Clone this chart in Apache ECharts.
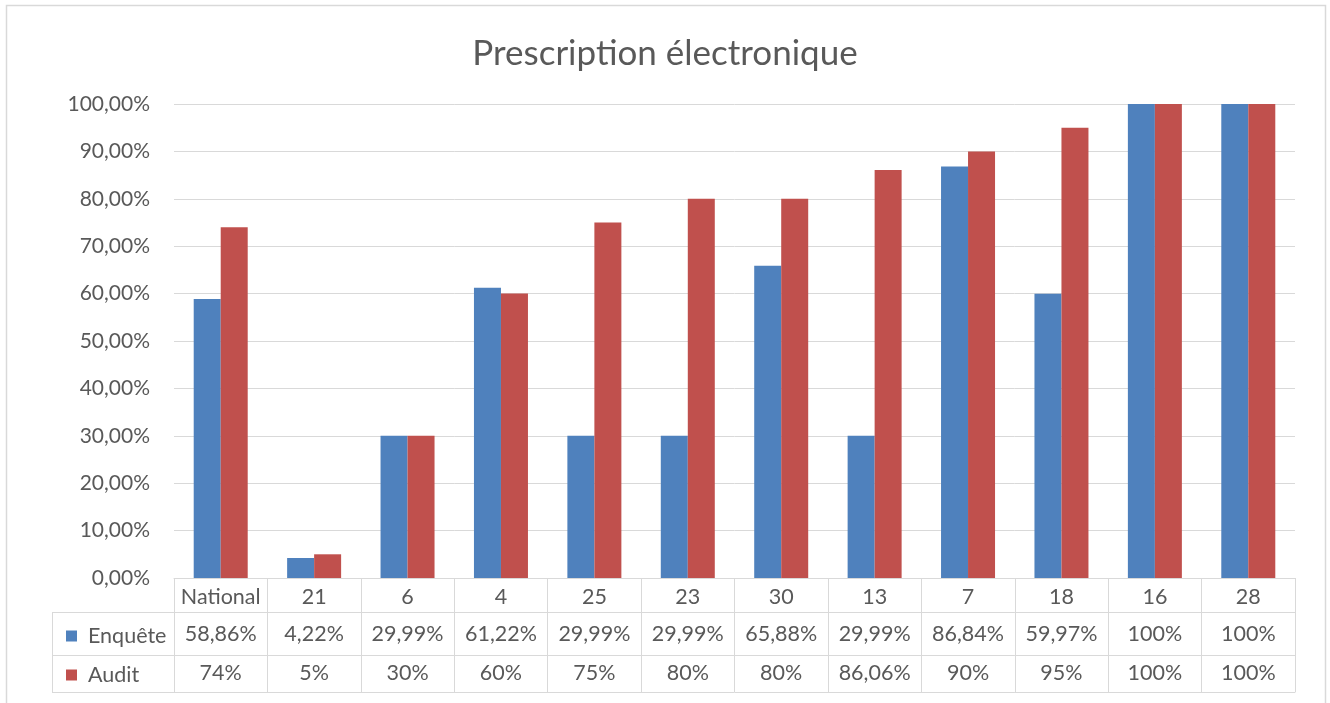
<!DOCTYPE html>
<html>
<head>
<meta charset="utf-8">
<script src="https://cdn.jsdelivr.net/npm/echarts@6/dist/echarts.min.js"></script>
<style>html,body{margin:0;padding:0;background:#fff}#c{width:1330px;height:703px}</style>
</head>
<body>
<div id="c"></div>
<script>
const categories = ['National','21','6','4','25','23','30','13','7','18','16','28'];
const enquete = [58.86, 4.22, 29.99, 61.22, 29.99, 29.99, 65.88, 29.99, 86.84, 59.97, 100, 100];
const audit = [74, 5, 30, 60, 75, 80, 80, 86.06, 90, 95, 100, 100];
const enqueteLabels = ['58,86%','4,22%','29,99%','61,22%','29,99%','29,99%','65,88%','29,99%','86,84%','59,97%','100%','100%'];
const auditLabels = ['74%','5%','30%','60%','75%','80%','80%','86,06%','90%','95%','100%','100%'];
const seriesNames = ['Enquête','Audit'];

const FONT = 'Lato';
const TXT = '#595959';
const LINE = '#d9d9d9';
const FS = 21.5;
const chart = echarts.init(document.getElementById('c'), null, {renderer:'canvas'});
const gridLeft = 174, gridRight = 35, gridTop = 104, gridBottom = 703-578;

function tableAxis(data, offset, margin, showLabel){
  return {
    type:'category', data:data, position:'bottom', offset:offset, gridIndex:0,
    axisLine:{show:true, lineStyle:{color:LINE, width:1}},
    axisTick:{show:false},
    axisLabel:{show:showLabel, interval:0, margin:margin, color:TXT, fontSize:FS, fontFamily:FONT},
    splitLine:{show:false}
  };
}

chart.setOption({
  animation:false,
  textStyle:{fontFamily:FONT},
  title:{text:'Prescription électronique', left:'center', top:31,
    textStyle:{color:TXT, fontSize:35, fontWeight:'normal', fontFamily:FONT}},
  grid:{left:gridLeft, right:gridRight, top:gridTop, bottom:gridBottom, containLabel:false},
  legend:{orient:'vertical', left:61, top:620, itemGap:17, itemWidth:11, itemHeight:11,
    icon:'rect', data:seriesNames,
    textStyle:{color:TXT, fontSize:FS, fontFamily:FONT, lineHeight:22, padding:[0,0,0,6]}},
  xAxis:[
    {type:'category', data:categories, position:'bottom',
      axisLine:{show:true, lineStyle:{color:LINE}},
      axisTick:{show:true, interval:0, length:114, lineStyle:{color:LINE}},
      axisLabel:{interval:0, margin:8, color:TXT, fontSize:FS, fontFamily:FONT}},
    tableAxis(enqueteLabels, 34, 11, true),
    tableAxis(auditLabels, 77, 7, true),
    tableAxis(auditLabels, 114, 8, false)
  ],
  yAxis:{type:'value', min:0, max:100, interval:10,
    axisLine:{show:false}, axisTick:{show:false},
    splitLine:{lineStyle:{color:LINE, width:1}},
    axisLabel:{margin:24, color:TXT, fontSize:21, fontFamily:FONT,
      formatter:v => v.toFixed(2).replace('.', ',') + '%'}},
  series:[
    {name:seriesNames[0], type:'bar', data:enquete, xAxisIndex:0, barWidth:27, barGap:'0%',
      itemStyle:{color:'#4f81bd'}},
    {name:seriesNames[1], type:'bar', data:audit, xAxisIndex:0, barWidth:27, barGap:'0%',
      itemStyle:{color:'#c0504d'}}
  ],
  graphic:[
    {type:'rect', shape:{x:6.5, y:5.5, width:1319, height:760}, style:{fill:'none', stroke:LINE, lineWidth:1.5}, silent:true},
    {type:'line', shape:{x1:52.5, y1:612, x2:52.5, y2:692}, style:{stroke:LINE, lineWidth:1}},
    {type:'line', shape:{x1:52, y1:612.5, x2:174, y2:612.5}, style:{stroke:LINE, lineWidth:1}},
    {type:'line', shape:{x1:52, y1:655.5, x2:174, y2:655.5}, style:{stroke:LINE, lineWidth:1}},
    {type:'line', shape:{x1:52, y1:692.5, x2:174, y2:692.5}, style:{stroke:LINE, lineWidth:1}}
  ]
});
</script>
</body>
</html>
